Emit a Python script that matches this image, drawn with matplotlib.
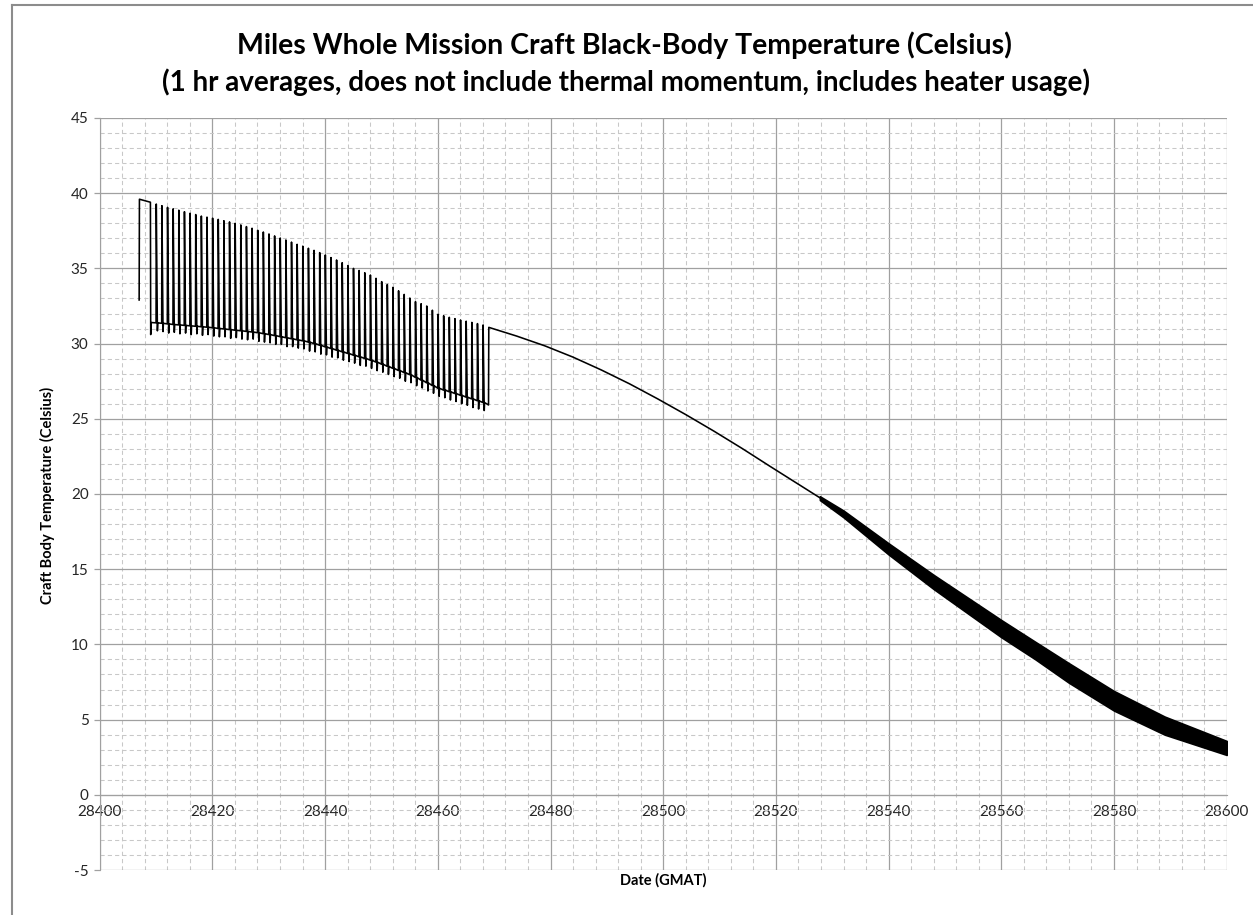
import matplotlib

matplotlib.use("Agg")
import matplotlib.pyplot as plt  # noqa: E402
from matplotlib.lines import Line2D  # noqa: E402
from matplotlib.ticker import MultipleLocator  # noqa: E402

plt.rcParams["font.family"] = ["Lato", "DejaVu Sans"]
plt.rcParams["axes.unicode_minus"] = False

TITLE = "Miles Whole Mission Craft Black-Body Temperature (Celsius)"
SUBTITLE = "(1 hr averages, does not include thermal momentum, includes heater usage)"
X_LABEL = "Date (GMAT)"
Y_LABEL = "Craft Body Temperature (Celsius)"

# first heater pulse before the daily cycle settles in
start_x = [28407.0, 28407.05, 28409.0, 28409.05, 28409.15]
start_y = [32.9, 39.6, 39.4, 30.6, 31.4]

# daily heater cycle: base temp, peak temp, dip just after heater off
tooth_days = [28410, 28411, 28412, 28413, 28414, 28415, 28416, 28417, 28418, 28419,
              28420, 28421, 28422, 28423, 28424, 28425, 28426, 28427, 28428, 28429,
              28430, 28431, 28432, 28433, 28434, 28435, 28436, 28437, 28438, 28439,
              28440, 28441, 28442, 28443, 28444, 28445, 28446, 28447, 28448, 28449,
              28450, 28451, 28452, 28453, 28454, 28455, 28456, 28457, 28458, 28459,
              28460, 28461, 28462, 28463, 28464, 28465, 28466, 28467, 28468]
tooth_base = [31.38, 31.35, 31.31, 31.27, 31.24, 31.21, 31.18, 31.15, 31.12, 31.09,
              31.05, 31.01, 30.97, 30.93, 30.89, 30.85, 30.81, 30.77, 30.72, 30.66,
              30.60, 30.53, 30.46, 30.39, 30.32, 30.25, 30.18, 30.10, 30.00, 29.89,
              29.78, 29.67, 29.56, 29.45, 29.34, 29.23, 29.12, 29.01, 28.90, 28.77,
              28.63, 28.49, 28.35, 28.21, 28.07, 27.93, 27.75, 27.57, 27.39, 27.21,
              27.03, 26.91, 26.80, 26.68, 26.56, 26.44, 26.32, 26.20, 26.08]
tooth_top = [39.28, 39.17, 39.06, 38.96, 38.87, 38.77, 38.67, 38.58, 38.48, 38.41,
             38.34, 38.26, 38.17, 38.09, 38.00, 37.89, 37.78, 37.67, 37.54, 37.42,
             37.29, 37.16, 37.02, 36.89, 36.75, 36.60, 36.48, 36.34, 36.20, 36.05,
             35.89, 35.72, 35.56, 35.38, 35.19, 35.00, 34.86, 34.71, 34.56, 34.34,
             34.12, 33.93, 33.74, 33.51, 33.27, 33.03, 32.79, 32.65, 32.50, 32.22,
             31.95, 31.85, 31.75, 31.66, 31.57, 31.49, 31.41, 31.33, 31.24]
tooth_dip = [30.85, 30.80, 30.70, 30.75, 30.65, 30.70, 30.60, 30.65, 30.55, 30.60,
             30.50, 30.45, 30.45, 30.35, 30.40, 30.30, 30.25, 30.30, 30.15, 30.10,
             30.05, 29.95, 29.95, 29.80, 29.80, 29.70, 29.65, 29.50, 29.45, 29.30,
             29.25, 29.10, 29.05, 28.90, 28.80, 28.70, 28.55, 28.50, 28.35, 28.20,
             28.10, 27.95, 27.80, 27.70, 27.50, 27.40, 27.20, 27.05, 26.85, 26.70,
             26.50, 26.40, 26.25, 26.15, 26.00, 25.90, 25.75, 25.65, 25.55]

# heaters off: last drop, then smooth cool-down
end_x = [28469.0]
end_y = [25.92]
curve_x = [28469.05, 28474, 28479, 28484, 28489, 28494, 28499,
           28504, 28509, 28514, 28519, 28524, 28527.8]
curve_y = [31.08, 30.50, 29.85, 29.10, 28.25, 27.33, 26.33,
           25.28, 24.18, 23.03, 21.83, 20.65, 19.75]

# dense hourly oscillation after 28528, drawn as its envelope
band_x = [28527.8, 28532, 28540, 28548, 28560, 28566, 28572, 28580, 28589, 28600]
band_upper = [19.85, 18.90, 16.72, 14.62, 11.62, 10.18, 8.75, 6.90, 5.20, 3.58]
band_lower = [19.60, 18.45, 15.98, 13.68, 10.48, 9.02, 7.45, 5.60, 4.00, 2.65]

W, H = 1253, 915
fig = plt.figure(figsize=(W / 100, H / 100), dpi=100)
ax = fig.add_axes([99.7 / W, 1 - 870 / H, 1127 / W, 752 / H])

xs = list(start_x)
ys = list(start_y)
for d, b, t, p in zip(tooth_days, tooth_base, tooth_top, tooth_dip):
    xs += [d, d + 0.04, d + 0.24, d + 0.30]
    ys += [b, t, p, b]
xs += end_x + curve_x
ys += end_y + curve_y
ax.plot(xs, ys, color="black", lw=1.15, zorder=3)
ax.fill_between(band_x, band_lower, band_upper, color="black", lw=1.2,
                edgecolor="black", zorder=3)

ax.set_xlim(28400, 28600)
ax.set_ylim(-5, 45)
ax.xaxis.set_major_locator(MultipleLocator(20))
ax.xaxis.set_minor_locator(MultipleLocator(4))
ax.yaxis.set_major_locator(MultipleLocator(5))
ax.yaxis.set_minor_locator(MultipleLocator(1))
ax.set_axisbelow(True)
ax.grid(which="major", color="#a0a0a0", lw=0.9)
ax.grid(which="minor", color="#c8c8c8", lw=0.75, ls=(0, (4, 3)))

for s in ("top", "right"):
    ax.spines[s].set_visible(False)
ax.spines["bottom"].set_position(("data", 0))
ax.spines["bottom"].set_color("#a0a0a0")
ax.spines["left"].set_color("#a0a0a0")
ax.tick_params(axis="x", which="both", length=0, pad=7, labelsize=11, labelcolor="#262626")
ax.tick_params(axis="y", which="major", length=4.5, width=0.9, color="#a0a0a0",
               pad=3.5, labelsize=11, labelcolor="#262626")
ax.tick_params(axis="y", which="minor", length=0)

fig.text(624 / W, 1 - 45 / H, TITLE, ha="center", va="center",
         fontsize=20.5, fontweight="bold")
fig.text(626 / W, 1 - 82 / H, SUBTITLE, ha="center", va="center",
         fontsize=20, fontweight="bold")
fig.text(47 / W, 1 - 495 / H, Y_LABEL, rotation=90, ha="center", va="center",
         fontsize=10.5, fontweight="bold")
fig.text(663 / W, 1 - 880 / H, X_LABEL, ha="center", va="center",
         fontsize=10.5, fontweight="bold")

# chart-area frame (only top and left edges are inside the picture)
fig.add_artist(Line2D([12 / W, 12 / W], [0, 1 - 5 / H], color="#8c8c8c", lw=1.5))
fig.add_artist(Line2D([12 / W, 1], [1 - 5 / H, 1 - 5 / H], color="#8c8c8c", lw=1.5))

fig.savefig("out.png", dpi=100)
